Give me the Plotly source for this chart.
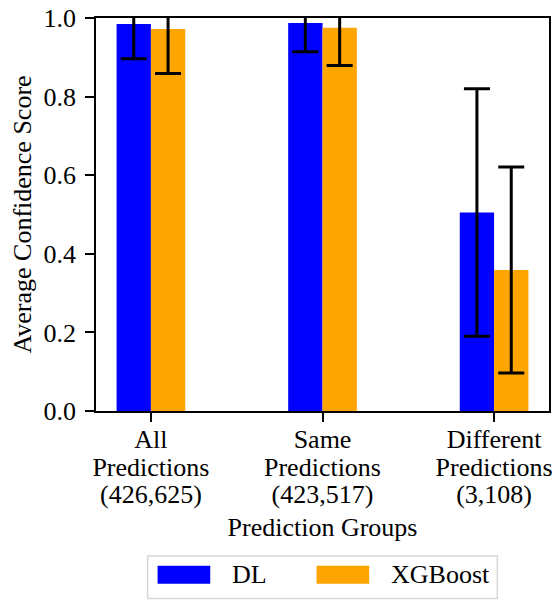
import plotly.graph_objects as go

categories = [["All", "Predictions", "(426,625)"],
              ["Same", "Predictions", "(423,517)"],
              ["Different", "Predictions", "(3,108)"]]
series_names = ["DL", "XGBoost"]
dl_mean = [0.985, 0.987, 0.505]
dl_err = [0.089, 0.073, 0.315]
xgb_mean = [0.972, 0.975, 0.359]
xgb_err = [0.113, 0.096, 0.262]
y_ticks = [0.0, 0.2, 0.4, 0.6, 0.8, 1.0]

colors = ["#0000ff", "#ffa500"]
W, H = 556, 601
L, R, T, B = 96, 552, 15, 411
FONT = "'Liberation Serif', 'Times New Roman', serif"
FS = 26
LINE_FS = 21.5  # controls line spacing of the multi-line tick labels (1.3 em)


def px(x):
    return (x - L) / (R - L)


def py(y):
    return (B - y) / (B - T)


ticktext = ["<br>".join(f"<span style='font-size:{FS}px'>{ln}</span>" for ln in lines)
            for lines in categories]

xpos = list(range(len(categories)))
fig = go.Figure()
for name, mean, err, c in [(series_names[0], dl_mean, dl_err, colors[0]),
                           (series_names[1], xgb_mean, xgb_err, colors[1])]:
    fig.add_trace(go.Bar(
        x=xpos, y=mean, name=name, marker=dict(color=c, line=dict(width=0)),
        error_y=dict(type="data", array=err, color="black", thickness=3, width=13),
        showlegend=False,
    ))

shapes = []
annotations = []
# custom legend (matplotlib style)
shapes.append(dict(type="rect", xref="paper", yref="paper",
                   x0=px(148), x1=px(500), y0=py(557), y1=py(600),
                   line=dict(color="#d6d6d6", width=1.5), fillcolor="rgba(255,255,255,0.8)"))
for i, (name, c) in enumerate(zip(series_names, colors)):
    sx = [158, 318][i]
    shapes.append(dict(type="rect", xref="paper", yref="paper",
                       x0=px(sx), x1=px(sx + 53), y0=py(567), y1=py(585),
                       line=dict(width=0), fillcolor=c))
    annotations.append(dict(text=name, xref="paper", yref="paper",
                            x=px(sx + 73), y=py(576), xanchor="left", yanchor="middle",
                            showarrow=False, font=dict(family=FONT, size=FS, color="black")))

fig.update_layout(
    width=W, height=H,
    margin=dict(l=L, r=W - R, t=T, b=H - B, pad=0),
    paper_bgcolor="white", plot_bgcolor="white",
    barmode="group", bargap=0.6, bargroupgap=0,
    font=dict(family=FONT, size=FS, color="black"),
    shapes=shapes, annotations=annotations,
    showlegend=False,
)
fig.update_xaxes(
    tickmode="array", tickvals=xpos, ticktext=ticktext,
    range=[-0.32, 2.32], showline=True, mirror=True, linecolor="black", linewidth=1.5,
    ticks="outside", ticklen=9, tickwidth=1.5, tickcolor="black",
    showgrid=False, zeroline=False,
    title=dict(text="Prediction Groups", standoff=9, font=dict(family=FONT, size=FS)),
    tickfont=dict(family=FONT, size=LINE_FS),
)
fig.update_yaxes(
    range=[0, 1.0], tickvals=y_ticks, ticktext=[f"{v:.1f}" for v in y_ticks],
    showline=True, mirror=True, linecolor="black", linewidth=1.5,
    ticks="outside", ticklen=9, tickwidth=1.5, tickcolor="black",
    ticklabelstandoff=4,
    showgrid=False, zeroline=False,
    title=dict(text="Average Confidence Score", standoff=4, font=dict(family=FONT, size=FS)),
    tickfont=dict(family=FONT, size=FS),
)
fig.write_html("out.html")
